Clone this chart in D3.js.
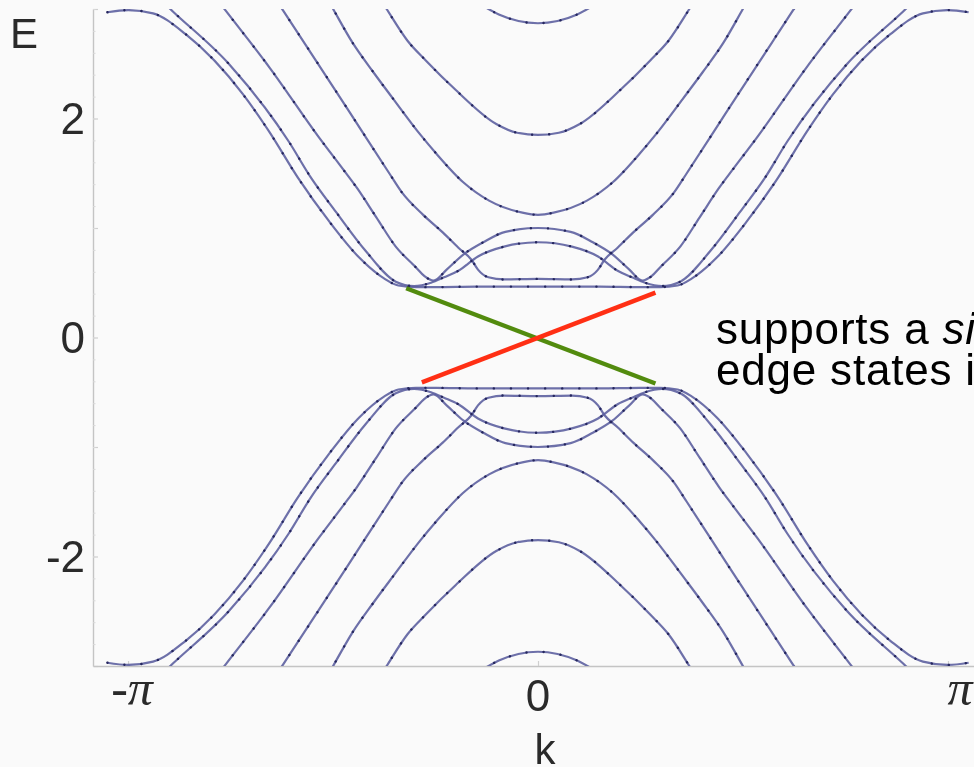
<!DOCTYPE html>
<html>
<head>
<meta charset="utf-8">
<script src="https://cdn.jsdelivr.net/npm/d3@7"></script>
<style>
  html, body { margin: 0; padding: 0; background: #fafafa; }
  svg { display: block; }
</style>
</head>
<body>
<svg id="chart" width="974" height="767"></svg>
<script>
// Conduction sub-bands of the ribbon, sampled for k >= 0 as [k, E].
// The spectrum is even in k and symmetric under E -> -E, so the k < 0
// halves and the valence sub-bands are drawn as reflections of these.
const bandA = [[0, 2.87], [0.15, 2.89], [0.3, 2.95], [0.45, 3.05]];
const bandB = [[0, 1.85], [0.16, 1.87], [0.32, 1.95], [0.63, 2.26], [0.86, 2.53], [1.0, 2.71], [1.16, 3.0], [1.26, 3.19]];
const bandC = [[0, 1.12], [0.12, 1.14], [0.375, 1.25], [0.575, 1.42], [0.78, 1.68], [0.9, 1.85], [1.11, 2.18], [1.26, 2.42], [1.42, 2.69], [1.57, 3.0], [1.68, 3.23]];
const bandD = [[0, 1.0], [0.25, 0.965], [0.42, 0.87], [0.57, 0.76], [0.7, 0.62], [0.8, 0.52], [0.87, 0.56], [0.935, 0.64], [1.09, 0.83], [1.24, 1.10], [1.39, 1.37], [1.49, 1.53], [1.68, 1.83], [2.06, 2.47], [2.39, 2.98], [2.5, 3.15]];
const bandE = [[0, 0.87], [0.26, 0.83], [0.46, 0.74], [0.61, 0.61], [0.72, 0.55], [0.82, 0.5], [0.95, 0.47], [1.09, 0.51], [1.32, 0.79], [1.55, 1.15], [1.74, 1.46], [1.91, 1.79], [2.37, 2.50], [2.80, 2.98], [2.95, 3.15]];
const bandF = [[0, 0.535], [0.26, 0.53], [0.38, 0.55], [0.46, 0.62], [0.51, 0.71], [0.61, 0.82], [0.73, 0.96], [0.88, 1.12], [1.04, 1.32], [1.14, 1.50], [1.45, 2.07], [1.95, 2.98], [2.05, 3.16]];
const bandG = [[0, 0.465], [0.475, 0.465], [0.78, 0.46], [0.935, 0.46], [1.07, 0.475], [1.18, 0.54], [1.37, 0.73], [1.60, 1.06], [1.84, 1.46], [2.06, 1.88], [2.26, 2.22], [2.70, 2.77], [2.95, 2.96], [3.14, 2.99], [3.3, 2.97]];
const conductionBands = [bandA, bandB, bandC, bandD, bandE, bandF, bandG];

// Helical edge-state branches crossing the gap, [k, E] end points.
const edgeUp = [[-0.89, -0.41], [0.90, 0.41]];
const edgeDown = [[-1.01, 0.45], [0.90, -0.42]];

// Axis ticks and titles.
const yTickValues = [-2, 0, 2];
const yTickLabels = ["-2", "0", "2"];
const yMajorTicks = [-3, -2, -1, 0, 1, 2, 3];
const xTickValues = [-Math.PI, 0, Math.PI];
const xTickLabels = ["-\u03c0", "0", "\u03c0"];
const xTitle = "k";
const yTitle = "E";

// Side note, one array of runs per line.
const noteLine1 = [{ text: "supports a ", italic: false }, { text: "si", italic: true }];
const noteLine2 = [{ text: "edge states i", italic: false }];

const svg = d3.select("#chart");
const x = d3.scaleLinear().domain([-3.41, 3.41]).range([93, 983]);
const y = d3.scaleLinear().domain([-3, 3]).range([666, 9]);

const defs = svg.append("defs");
defs.append("clipPath").attr("id", "plotClip")
  .append("rect")
  .attr("x", x(-3.41)).attr("y", y(3))
  .attr("width", x(3.41) - x(-3.41)).attr("height", y(-3) - y(3));
defs.append("filter").attr("id", "soft")
  .attr("x", "-5%").attr("y", "-5%").attr("width", "110%").attr("height", "110%")
  .append("feGaussianBlur").attr("stdDeviation", 0.55);

const plot = svg.append("g").attr("filter", "url(#soft)");

// Frame: left and bottom edges with inward ticks.
const axisColor = "#c4c4c4";
const yAxis = d3.axisRight(y).tickValues(yMajorTicks).tickSize(5).tickSizeOuter(0).tickFormat("");
const yAxisG = plot.append("g").attr("transform", `translate(${x(-3.41)},0)`).call(yAxis);
yAxisG.select(".domain").attr("stroke", axisColor).attr("stroke-width", 1.4);
yAxisG.selectAll(".tick line").attr("stroke", "#cfcfcf").attr("stroke-width", 1.2);
const yMinor = d3.axisRight(y).tickValues(d3.range(-30, 31, 2).map(v => v / 10)).tickSize(2.5).tickFormat("");
const yMinorG = plot.append("g").attr("transform", `translate(${x(-3.41)},0)`).call(yMinor);
yMinorG.select(".domain").remove();
yMinorG.selectAll(".tick line").attr("stroke", "#d8d8d8");

const xAxis = d3.axisTop(x).tickValues(xTickValues).tickSize(5).tickSizeOuter(0).tickFormat("");
const xAxisG = plot.append("g").attr("transform", `translate(0,${y(-3)})`).call(xAxis);
xAxisG.select(".domain").attr("stroke", axisColor).attr("stroke-width", 1.4);
xAxisG.selectAll(".tick line").attr("stroke", "#cfcfcf").attr("stroke-width", 1.2);

// Tick labels and axis titles.
const labelFont = "'Liberation Sans', Arial, sans-serif";
const piFont = "'Liberation Serif', 'Times New Roman', serif";
plot.append("g").selectAll("text").data(yTickValues).join("text")
  .attr("x", 85).attr("y", d => y(d) + 15)
  .attr("text-anchor", "end")
  .attr("font-family", labelFont).attr("font-size", 44)
  .attr("fill", "#2b2b2b")
  .text((d, i) => yTickLabels[i]);

const xLabelDx = [4, 0, 12];
plot.append("g").selectAll("text").data(xTickValues).join("text")
  .attr("x", (d, i) => x(d) + xLabelDx[i])
  .attr("y", (d, i) => i === 1 ? 711 : 705)
  .attr("text-anchor", "middle")
  .attr("font-family", (d, i) => i === 1 ? labelFont : piFont)
  .attr("font-style", (d, i) => i === 1 ? "normal" : "italic")
  .attr("font-size", (d, i) => i === 1 ? 44 : 50)
  .attr("fill", "#2b2b2b")
  .text((d, i) => xTickLabels[i]);

plot.append("text").attr("x", 10).attr("y", 48)
  .attr("font-family", labelFont).attr("font-size", 42).attr("fill", "#2b2b2b")
  .text(yTitle);
plot.append("text").attr("x", 545).attr("y", 764).attr("text-anchor", "middle")
  .attr("font-family", labelFont).attr("font-size", 42).attr("fill", "#2b2b2b")
  .text(xTitle);

// Sub-bands: every conduction band and its valence mirror, over both signs of k.
function fullBand(half, sign) {
  const left = half.slice(1).map(([k, e]) => [-k, sign * e]).reverse();
  const right = half.map(([k, e]) => [k, sign * e]);
  return left.concat(right);
}
const curves = [];
conductionBands.forEach(b => { curves.push(fullBand(b, 1)); curves.push(fullBand(b, -1)); });

const bandLine = d3.line().x(d => x(d[0])).y(d => y(d[1])).curve(d3.curveMonotoneX);
const bandsG = plot.append("g").attr("clip-path", "url(#plotClip)");
bandsG.selectAll("path.band").data(curves).join("path")
  .attr("class", "band")
  .attr("d", bandLine)
  .attr("fill", "none")
  .attr("stroke", "#5d61a0")
  .attr("stroke-width", 2.2)
  .attr("stroke-opacity", 0.9);
// sample-point dots along each band
bandsG.selectAll("path.dots").data(curves).join("path")
  .attr("class", "dots")
  .attr("d", bandLine)
  .attr("fill", "none")
  .attr("stroke", "#26285e")
  .attr("stroke-width", 2.4)
  .attr("stroke-linecap", "round")
  .attr("stroke-dasharray", "0.1 17");

// Edge states drawn over the gap.
const edgeLine = d3.line().x(d => x(d[0])).y(d => y(d[1]));
svg.append("path").attr("d", edgeLine(edgeDown))
  .attr("fill", "none").attr("stroke", "#528b0e").attr("stroke-width", 4.4);
svg.append("path").attr("d", edgeLine(edgeUp))
  .attr("fill", "none").attr("stroke", "#ff2f14").attr("stroke-width", 4.4);

// Side note: one text block, a tspan line per entry.
const note = svg.append("text")
  .attr("x", 716).attr("y", 344)
  .attr("font-family", "'Liberation Sans', Helvetica, Arial, sans-serif")
  .attr("font-size", 44)
  .attr("letter-spacing", "0.8px")
  .attr("fill", "#000");
[noteLine1, noteLine2].forEach((runs, li) => {
  runs.forEach((r, ri) => {
    const s = note.append("tspan")
      .attr("font-style", r.italic ? "italic" : "normal")
      .text(r.text);
    if (ri === 0) s.attr("x", 716).attr("dy", li === 0 ? 0 : 41);
  });
});
</script>
</body>
</html>
